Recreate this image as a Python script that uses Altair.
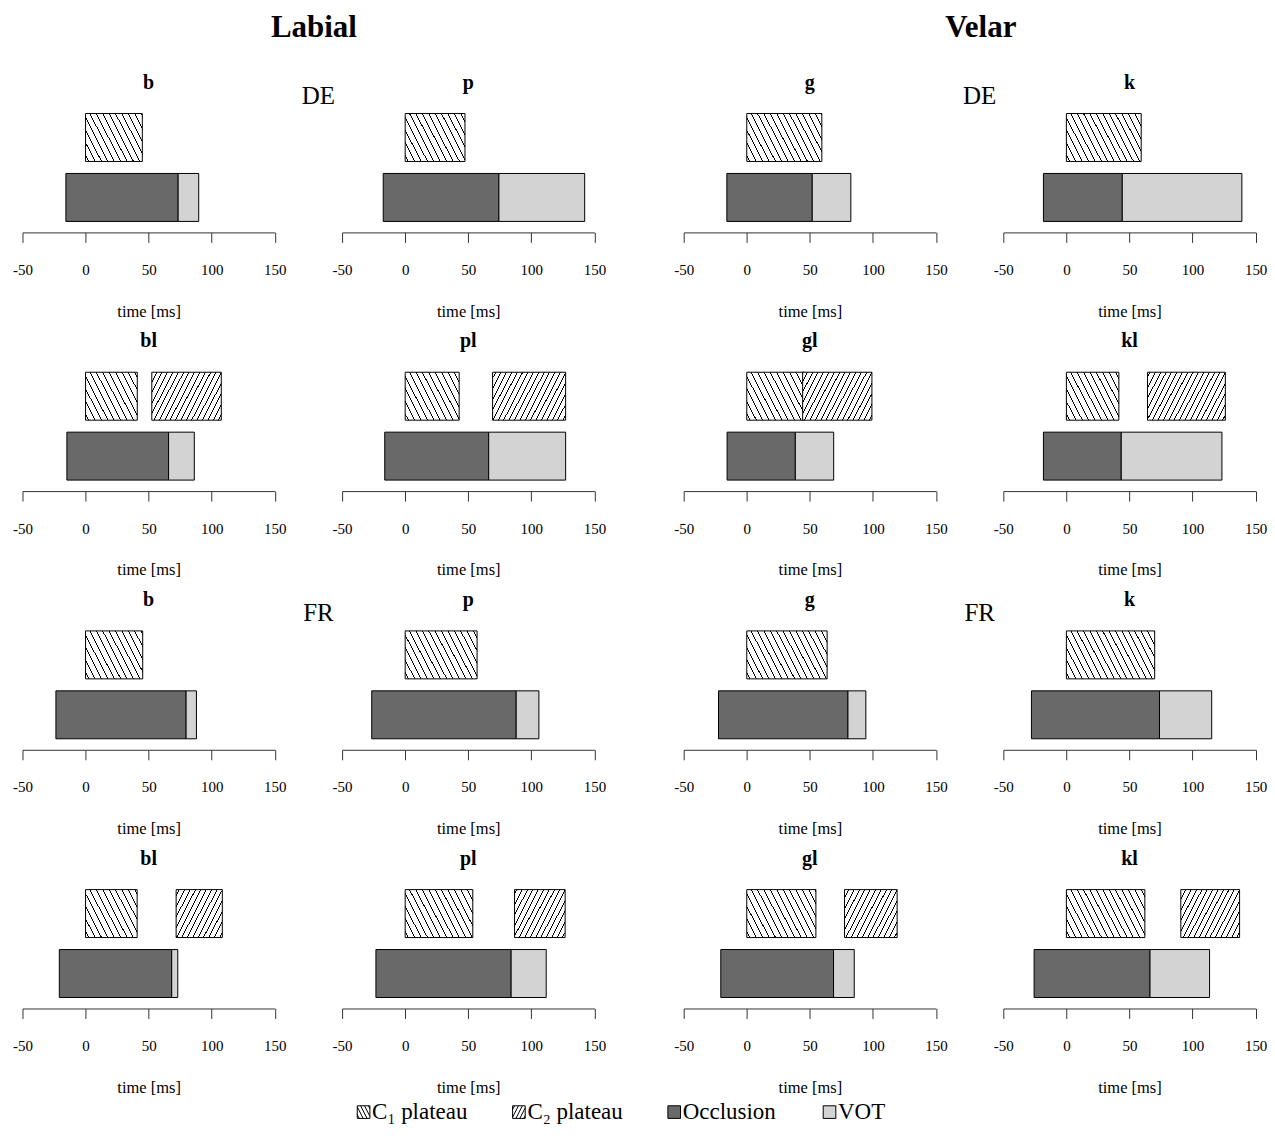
import math
import altair as alt
import pandas as pd

FONT = "Liberation Serif"

# ---------------- data (ms) ----------------
consonants = ["b", "p", "g", "k", "bl", "pl", "gl", "kl"]
languages = ["DE", "FR"]
places = ["Labial", "Velar"]

c1_start = {"DE": [0, 0, 0, 0, 0, 0, 0, 0], "FR": [0, 0, 0, 0, 0, 0, 0, 0]}
c1_end = {"DE": [45.0, 47.4, 59.5, 59.3, 41.0, 42.8, 45.4, 41.6],
          "FR": [45.3, 57.0, 63.7, 70.0, 40.9, 53.6, 54.8, 62.2]}
c2_start = {"DE": [None, None, None, None, 52.5, 69.3, 44.3, 64.3],
            "FR": [None, None, None, None, 71.8, 86.7, 77.5, 90.7]}
c2_end = {"DE": [None, None, None, None, 107.6, 127.2, 99.2, 126.0],
          "FR": [None, None, None, None, 108.4, 126.8, 119.2, 137.3]}
occ_start = {"DE": [-15.6, -17.4, -15.8, -18.2, -14.8, -16.2, -15.6, -18.2],
             "FR": [-23.5, -26.5, -22.4, -27.7, -20.8, -23.2, -20.6, -25.6]}
occ_end = {"DE": [73.4, 74.3, 51.9, 44.3, 65.8, 66.2, 38.5, 43.5],
           "FR": [79.7, 88.0, 80.2, 73.8, 68.3, 84.0, 68.8, 66.3]}
vot_end = {"DE": [89.7, 142.3, 82.5, 139.1, 86.2, 127.2, 68.9, 123.3],
           "FR": [87.9, 106.0, 94.4, 115.2, 73.1, 111.8, 85.2, 113.5]}

legend_labels = ["C\u2081 plateau", "C\u2082 plateau", "Occlusion", "VOT"]
legend_colors = ["white", "white", "#696969", "#d3d3d3"]
tick_values = [-50, 0, 50, 100, 150]
x_domain = [-50, 150]

# ---------------- layout constants ----------------
W = 252.6
H = 130
BAR_H = 48
PX_PER_MS = W / (x_domain[1] - x_domain[0])
HATCH_ANGLE = 63.0


def hatch(w, h, slope_dir, hsp, ang=HATCH_ANGLE, lw=0.9):
    """linear gradient imitating a line hatch inside a w x h box"""
    a = math.radians(ang)
    dx, dy = math.cos(a), math.sin(a) * slope_dir
    gx, gy = dy / h, -dx / w
    ps = [u * gx + v * gy for u in (0, 1) for v in (0, 1)]
    pmin, pmax = min(ps), max(ps)
    gg = gx * gx + gy * gy
    span = w * abs(dy) + h * abs(dx)
    s = hsp * math.sin(a)
    stops = [{"offset": 0, "color": "white"}]
    c = s * 0.5
    while c < span:
        o1 = round(max(0.0, (c - lw / 2) / span), 5)
        o2 = round(min(1.0, (c + lw / 2) / span), 5)
        stops += [{"offset": o1, "color": "white"}, {"offset": o1, "color": "black"},
                  {"offset": o2, "color": "black"}, {"offset": o2, "color": "white"}]
        c += s
    stops.append({"offset": 1, "color": "white"})
    return {"gradient": "linear",
            "x1": round(pmin * gx / gg, 5), "y1": round(pmin * gy / gg, 5),
            "x2": round(pmax * gx / gg, 5), "y2": round(pmax * gy / gg, 5),
            "stops": stops}


def hatch_symbol(slope_dir, step, ang=HATCH_ANGLE):
    """square symbol path (normalised -1..1) with hatch lines"""
    a = math.radians(ang)
    dx, dy = math.cos(a), math.sin(a) * slope_dir
    path = "M-1,-1H1V1H-1Z"
    y0 = -1 if slope_dir > 0 else 1
    c = -1 - 2 * dx / abs(dy) + step / 2
    while c < 1:
        t0, t1 = -10.0, 10.0
        for p, q in ((-dx, c + 1), (dx, 1 - c), (-dy, y0 + 1), (dy, 1 - y0)):
            if abs(p) < 1e-12:
                continue
            r = q / p
            if p < 0:
                t0 = max(t0, r)
            else:
                t1 = min(t1, r)
        if t1 - t0 > 0.05:
            path += "M%.3f,%.3fL%.3f,%.3f" % (c + t0 * dx, y0 + t0 * dy, c + t1 * dx, y0 + t1 * dy)
        c += step
    return path


SQUARE = "M-1,-1H1V1H-1Z"
legend_shapes = [hatch_symbol(1, 0.62), hatch_symbol(-1, 0.62), SQUARE, SQUARE]
legend_strokes = ["black", "black", "black", "black"]

legend = alt.Legend(
    title=None, orient="none", legendX=330, legendY=999, direction="horizontal",
    symbolSize=160, symbolStrokeWidth=1, symbolOpacity=1, gridAlign="all",
    labelFont=FONT, labelFontSize=23, labelColor="black", labelOffset={"expr": "-3"},
    columnPadding=39.5,
)

x_axis = alt.Axis(values=tick_values, labelExpr="'' + datum.value", title="time [ms]",
                  grid=False, tickSize=10, labelPadding=20, titlePadding=26,
                  labelFont=FONT, labelFontSize=15, titleFont=FONT, titleFontSize=16.5,
                  titleFontWeight="normal", labelColor="black", titleColor="black",
                  domainColor="#333", tickColor="#333", labelFlush=False)
x_scale = alt.Scale(domain=x_domain, nice=False, zero=False)
y_scale = alt.Scale(domain=["plat", "seg"], paddingInner=0.2, paddingOuter=0.1833)


def xenc():
    return alt.X("start:Q", scale=x_scale, axis=x_axis)


def yenc():
    return alt.Y("row:N", scale=y_scale, axis=None)


def text_layer(txt, x, y, size, weight="normal"):
    return alt.Chart(pd.DataFrame({"t": [txt]})).mark_text(
        font=FONT, fontSize=size, fontWeight=weight, baseline="alphabetic",
        align="center", color="black").encode(text="t:N", x=alt.value(x), y=alt.value(y))


def panel(lang, i, with_legend=False):
    layers = []
    seg_defs = [("Occlusion", occ_start[lang][i], occ_end[lang][i], legend_colors[2]),
                ("VOT", occ_end[lang][i], vot_end[lang][i], legend_colors[3])]
    for name, s, e, col in seg_defs:
        df = pd.DataFrame({"phase": [name], "start": [s], "end": [e], "row": ["seg"]})
        layers.append(alt.Chart(df).mark_bar(fill=col, stroke="black", strokeWidth=1).encode(
            x=xenc(), x2="end:Q", y=yenc()))
    plats = [(c1_start[lang][i], c1_end[lang][i], 1, 6.4)]
    if c2_start[lang][i] is not None:
        plats.append((c2_start[lang][i], c2_end[lang][i], -1, 5.4))
    for s, e, d, hsp in plats:
        df = pd.DataFrame({"start": [s], "end": [e], "row": ["plat"]})
        g = hatch((e - s) * PX_PER_MS, BAR_H, d, hsp)
        layers.append(alt.Chart(df).mark_bar(fill=g, stroke="black", strokeWidth=1).encode(
            x=xenc(), x2="end:Q", y=yenc()))
    layers.append(text_layer(consonants[i], W / 2, -14, 20, "bold"))
    col = i % 4
    if col in (0, 2) and i < 4:
        layers.append(text_layer(lang, 296.3, 1.3, 25))
    if lang == "DE" and i == 0:
        layers.append(text_layer(places[0], 291.8, -65.7, 31, "bold"))
    if lang == "DE" and i == 2:
        layers.append(text_layer(places[1], 297.5, -65.7, 31, "bold"))
    if with_legend:
        empty = pd.DataFrame({"phase": pd.Series([], dtype=str)})
        layers.append(alt.Chart(empty).mark_point(filled=True, opacity=1, strokeWidth=1).encode(
            color=alt.Color("phase:N", scale=alt.Scale(domain=legend_labels, range=legend_colors),
                            legend=legend),
            shape=alt.Shape("phase:N", scale=alt.Scale(domain=legend_labels, range=legend_shapes),
                            legend=legend),
            stroke=alt.Stroke("phase:N", scale=alt.Scale(domain=legend_labels, range=legend_strokes),
                              legend=legend)))
    return alt.layer(*layers).properties(width=W, height=H)


def spacer(w):
    return alt.Chart(pd.DataFrame({"t": [""]})).mark_text().encode(text="t:N").properties(
        width=w, height=H)


GAP_IN = 66.8
GAP_MID = 88.4
cells = []
for r in range(4):
    lang = languages[r // 2]
    half = r % 2
    for k in range(4):
        cells.append(panel(lang, half * 4 + k, with_legend=(r == 0 and k == 0)))
        if k < 3:
            cells.append(spacer(GAP_MID if k == 1 else GAP_IN))

chart = alt.concat(*cells, columns=7, spacing={"row": 129, "column": 0}, bounds="flush",
                   align="each").properties(
    padding={"left": 4.5, "top": 3, "right": 0, "bottom": 0}
).configure(font=FONT, background="white").configure_view(stroke=None, strokeWidth=0)

chart.save("out.html", embed_options={"renderer": "svg", "actions": False})
